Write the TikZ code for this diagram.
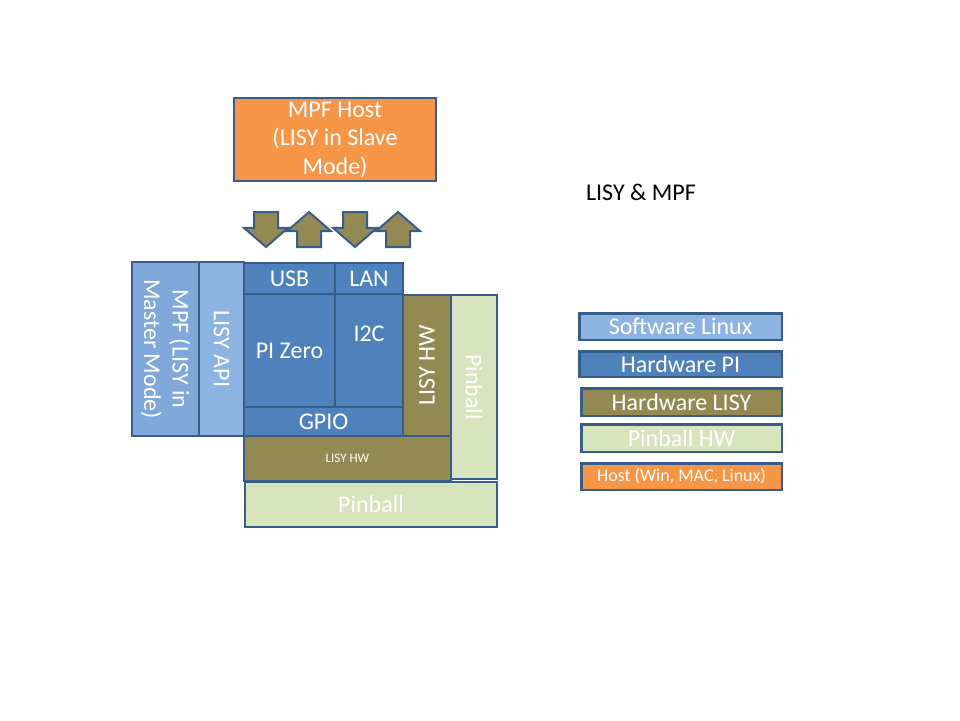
\documentclass[tikz,border=0pt]{standalone}
\usepackage{fontspec}
\setmainfont{Carlito}
\usetikzlibrary{shapes,arrows,positioning}

\definecolor{edgeblue}{HTML}{385D8A}
\definecolor{swblue}{HTML}{8DB3E2}
\definecolor{mpfblue}{HTML}{80A8DB}
\definecolor{piblue}{HTML}{4F81BD}
\definecolor{lisyolive}{HTML}{938953}
\definecolor{pingreen}{HTML}{D7E4BD}
\definecolor{hostorange}{HTML}{F79646}

\begin{document}
\begin{tikzpicture}[x=1pt,y=1pt,node distance=11.5pt]
  \tikzstyle{blk} = [draw=edgeblue,line width=2.5pt,rectangle,inner sep=0pt,outer sep=0pt,text=white,font=\fontsize{24}{28.5}\selectfont]
  \tikzstyle{swbox} = [blk,fill=swblue]
  \tikzstyle{pibox} = [blk,fill=piblue]
  \tikzstyle{lisybox} = [blk,fill=lisyolive]
  \tikzstyle{pinbox} = [blk,fill=pingreen]
  \tikzstyle{hostbox} = [blk,fill=hostorange]
  \tikzstyle{bigarrow} = [single arrow,draw=edgeblue,line width=2pt,fill=lisyolive,inner sep=11pt,outer sep=0pt,
    minimum height=35pt,single arrow head extend=10pt,single arrow tip angle=98,anchor=tail]
  \useasboundingbox (0,0) rectangle (960,-720);
  % host on top
  \node (host) [hostbox, align=center, minimum width=202pt, minimum height=83pt] at (335,-139.5)
    {MPF Host\\(LISY in Slave\\Mode)};
  \node (title) [font=\fontsize{24}{28}\selectfont] at (641,-192) {LISY \& MPF};
  \node (dnA) [bigarrow, rotate=-90] at (266,-212) {};
  \node (upA) [bigarrow, rotate=90] at (309,-247) {};
  \node (dnB) [bigarrow, rotate=-90] at (355,-212) {};
  \node (upB) [bigarrow, rotate=90] at (398,-247) {};
  % software side
  \node (mpf) [blk, fill=mpfblue, align=center, rotate=-90, minimum width=174pt, minimum height=67pt]
    at (165.5,-349) {MPF (LISY in\\Master Mode)};
  \node (api) [swbox, rotate=-90, minimum width=174pt, minimum height=45pt] at (221.5,-349) {LISY API};
  % pi zero
  \node (usb) [pibox, minimum width=91pt, minimum height=31pt] at (289.5,-278.5) {USB};
  \node (lan) [pibox, minimum width=68pt, minimum height=31pt] at (369,-278.5) {LAN};
  \node (pizero) [pibox, minimum width=91pt, minimum height=113pt] at (289.5,-350.5) {PI Zero};
  \node (itwoc) [pibox, minimum width=68pt, minimum height=113pt, text height=16pt, text depth=33.5pt]
    at (369,-350.5) {I2C};
  \node (gpio) [pibox, minimum width=159pt, minimum height=29pt] at (323.5,-421.5) {GPIO};
  % lisy and pinball
  \node (lisyv) [lisybox, rotate=90, minimum width=141pt, minimum height=48pt] at (427,-365.5) {LISY HW};
  \node (pinv) [pinbox, rotate=-90, minimum width=184pt, minimum height=46pt] at (474,-387) {Pinball};
  \node (lisyh) [lisybox, font=\fontsize{13}{16}\selectfont, minimum width=207pt, minimum height=45pt]
    at (347.5,-458.5) {LISY HW};
  \node (pinh) [pinbox, minimum width=252pt, minimum height=45pt] at (371,-504.5) {Pinball};
  % legend
  \node (lgsw) [swbox, minimum width=202.5pt, minimum height=26.5pt] at (680.5,-326.5) {Software Linux};
  \node (lgpi) [pibox, below=of lgsw, minimum width=202.5pt, minimum height=25.5pt] {Hardware PI};
  \node (lglisy) [lisybox, below=of lgpi, xshift=1pt, minimum width=200.5pt, minimum height=27.5pt] {Hardware LISY};
  \node (lgpin) [pinbox, below=8.5pt of lglisy, minimum width=200.5pt, minimum height=27.5pt] {Pinball HW};
  \node (lghost) [hostbox, below=of lgpin, font=\fontsize{18}{22}\selectfont, minimum width=200.5pt,
    minimum height=26.5pt] {Host (Win, MAC, Linux)};
\end{tikzpicture}
\end{document}
